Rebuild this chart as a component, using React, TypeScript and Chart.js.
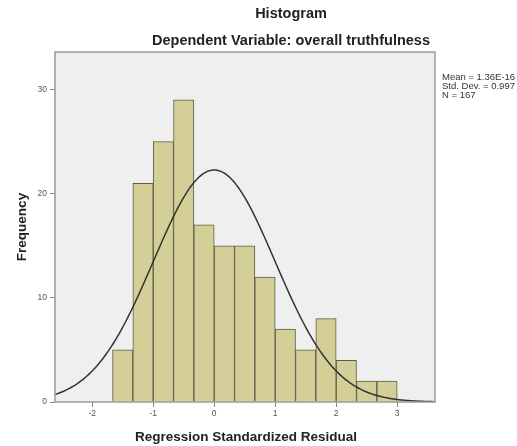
import React, { useEffect, useRef } from "react";
import { Chart, registerables } from "chart.js";

Chart.register(...registerables);

// ---- Data ----
const binWidth = 1 / 3;
const binStarts = [-5 / 3, -4 / 3, -1, -2 / 3, -1 / 3, 0, 1 / 3, 2 / 3, 1, 4 / 3, 5 / 3, 2, 7 / 3, 8 / 3];
const frequencies = [5, 21, 25, 29, 17, 15, 15, 12, 7, 5, 8, 4, 2, 2];
const xTickValues = [-2, -1, 0, 1, 2, 3];
const yTickValues = [0, 10, 20, 30];
const statMean = 1.36e-16;
const statSD = 0.997;
const statN = 167;
const legendLines = ["Mean = 1.36E-16", "Std. Dev. = 0.997", "N = 167"];
const chartTitle = "Histogram";
const chartSubtitle = "Dependent Variable: overall truthfulness";
const xTitle = "Regression Standardized Residual";
const yTitle = "Frequency";
const xMin = -2.61;
const xMax = 3.62;
const yMax = 33.6;

// fitted normal curve from the displayed statistics
const curveXs: number[] = [];
for (let v = xMin; v <= xMax + 1e-9; v += 0.03) curveXs.push(v);
const normalCurve = curveXs.map((x) => ({
  x,
  y:
    ((statN * binWidth) / (statSD * Math.sqrt(2 * Math.PI))) *
    Math.exp(-((x - statMean) ** 2) / (2 * statSD * statSD)),
}));

const FONT = "'Liberation Sans', Arial, sans-serif";

const decorPlugin = {
  id: "decor",
  beforeDraw(chart: any) {
    const { ctx, chartArea } = chart;
    ctx.save();
    ctx.fillStyle = "#ffffff";
    ctx.fillRect(0, 0, chart.width, chart.height);
    ctx.fillStyle = "#efefef";
    ctx.fillRect(chartArea.left, chartArea.top, chartArea.right - chartArea.left, chartArea.bottom - chartArea.top);
    ctx.restore();
  },
  afterDraw(chart: any) {
    const { ctx, chartArea } = chart;
    ctx.save();
    ctx.strokeStyle = "#9a9a9a";
    ctx.lineWidth = 1.5;
    ctx.strokeRect(chartArea.left, chartArea.top, chartArea.right - chartArea.left, chartArea.bottom - chartArea.top);

    ctx.fillStyle = "#222";
    ctx.textAlign = "center";
    ctx.textBaseline = "middle";
    ctx.font = `bold 14.5px ${FONT}`;
    ctx.fillText(chartTitle, 291, 14);
    ctx.fillText(chartSubtitle, 291, 41);

    ctx.font = `bold 13.5px ${FONT}`;
    ctx.fillText(xTitle, 246, 437);

    ctx.save();
    ctx.translate(22, 227);
    ctx.rotate(-Math.PI / 2);
    ctx.font = `bold 13.5px ${FONT}`;
    ctx.fillText(yTitle, 0, 0);
    ctx.restore();

    ctx.textAlign = "left";
    ctx.font = `9.5px ${FONT}`;
    ctx.fillStyle = "#333";
    legendLines.forEach((t, i) => ctx.fillText(t, 442, 77 + i * 9));
    ctx.restore();
  },
};

export default function App() {
  const ref = useRef<HTMLCanvasElement>(null);
  useEffect(() => {
    document.body.style.margin = "0";
    const chart = new Chart(ref.current as HTMLCanvasElement, {
      type: "bar",
      data: {
        datasets: [
          {
            type: "line",
            data: normalCurve,
            borderColor: "#333333",
            borderWidth: 1.5,
            pointRadius: 0,
            tension: 0,
            order: 0,
          } as any,
          {
            type: "bar",
            data: binStarts.map((s, i) => ({ x: s + binWidth / 2, y: frequencies[i] })),
            backgroundColor: "#d4cf97",
            borderColor: "#5e5c48",
            borderWidth: 1,
            barPercentage: 1,
            categoryPercentage: 1,
            order: 1,
          } as any,
        ],
      },
      options: {
        animation: false,
        responsive: false,
        devicePixelRatio: 1,
        layout: { padding: { left: 0, top: 52, right: 82, bottom: 0 } },
        plugins: { legend: { display: false }, tooltip: { enabled: false }, title: { display: false } },
        scales: {
          x: {
            type: "linear",
            min: xMin,
            max: xMax,
            offset: false,
            afterBuildTicks: (scale: any) => {
              scale.ticks = xTickValues.map((v) => ({ value: v }));
            },
            afterFit: (scale: any) => {
              scale.height = 44;
            },
            grid: { offset: false, drawOnChartArea: false, drawTicks: true, tickLength: 5, color: "#888" },
            border: { display: false },
            ticks: { padding: 2, color: "#555", font: { size: 8.5, family: FONT }, maxRotation: 0 },
          },
          y: {
            type: "linear",
            min: 0,
            max: yMax,
            afterBuildTicks: (scale: any) => {
              scale.ticks = yTickValues.map((v) => ({ value: v }));
            },
            afterFit: (scale: any) => {
              scale.width = 55;
            },
            grid: { drawOnChartArea: false, drawTicks: true, tickLength: 5, color: "#888" },
            border: { display: false },
            ticks: { padding: 3, color: "#555", font: { size: 8.5, family: FONT } },
          },
        },
      },
      plugins: [decorPlugin],
    });
    return () => chart.destroy();
  }, []);
  return (
    <div style={{ width: 517, height: 446 }}>
      <canvas ref={ref} width={517} height={446} style={{ width: 517, height: 446, display: "block" }} />
    </div>
  );
}
